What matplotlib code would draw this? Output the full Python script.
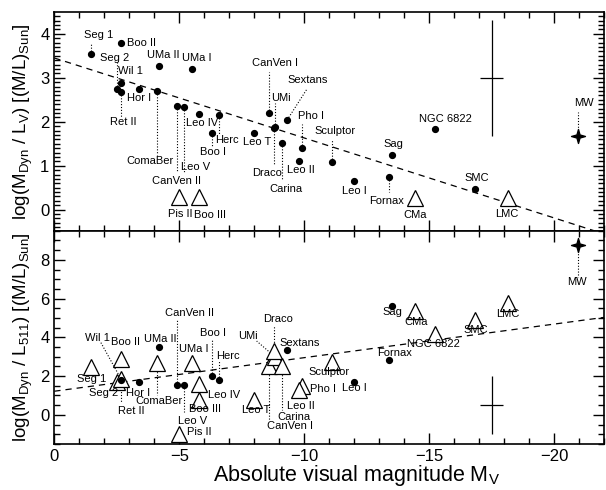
import numpy as np
import matplotlib
matplotlib.use("Agg")
import matplotlib.pyplot as plt
from matplotlib.path import Path
from matplotlib.ticker import MultipleLocator

plt.rcParams['font.family'] = ['Liberation Sans', 'DejaVu Sans']
plt.rcParams['mathtext.fontset'] = 'custom'
plt.rcParams['mathtext.rm'] = 'Liberation Sans'
plt.rcParams['mathtext.it'] = 'Liberation Sans:italic'
plt.rcParams['mathtext.default'] = 'regular'

# --- data -------------------------------------------------------------
names = ["Seg 1", "Boo II", "Seg 2", "Wil 1", "Ret II", "Hor I", "UMa II", "UMa I",
         "ComaBer", "CanVen II", "Leo V", "Leo IV", "Herc", "Boo I", "Pis II", "Boo III",
         "CanVen I", "Sextans", "UMi", "Draco", "Carina", "Leo T", "Pho I", "Leo II",
         "Sculptor", "Leo I", "Sag", "Fornax", "CMa", "NGC 6822", "SMC", "LMC", "MW"]
mv = [-1.47, -2.67, -2.5, -2.67, -2.67, -3.39, -4.19, -5.5,
      -4.1, -4.9, -5.2, -5.8, -6.6, -6.3, -5.0, -5.8,
      -8.6, -9.32, -8.83, -8.79, -9.1, -8.0, -9.9, -9.8,
      -11.1, -12.0, -13.52, -13.4, -14.43, -15.23, -16.83, -18.16, -20.96]
# log(M_dyn / L_V)
ml_v = [3.54, 3.80, 2.74, 2.89, 2.68, 2.74, 3.27, 3.20,
        2.70, 2.36, 2.33, 2.17, 2.15, 1.75, 0.28, 0.28,
        2.20, 2.04, 1.89, 1.85, 1.52, 1.75, 1.40, 1.11,
        1.08, 0.65, 1.24, 0.75, 0.26, 1.83, 0.47, 0.26, 1.68]
kind_v = ["o"] * 14 + ["t", "t"] + ["o"] * 12 + ["t", "o", "o", "t", "s"]

# log(M_dyn / L_511)
ml_511 = [2.45, 2.90, 1.70, 1.85, 1.79, 1.71, 3.52, 2.66,
          2.69, 1.52, 1.52, 1.57, 1.78, 2.00, -0.97, 0.79,
          2.50, 3.35, 3.00, 3.30, 2.50, 0.79, 1.48, 1.30,
          2.75, 1.71, 5.63, 2.83, 5.37, 4.16, 4.89, 5.77, 8.78]
kind_511 = ["t", "t", "t", "t", "o", "o", "o", "t",
            "t", "o", "o", "t", "o", "o", "t", "t",
            "t", "o", "t", "t", "t", "t", "t", "t",
            "t", "o", "o", "o", "t", "t", "t", "t", "s"]

fit_x = [0, -22]
fit_v = [3.45, -0.55]
fit_511 = [1.22, 5.03]

err_x = -17.5
err_v = (3.0, 1.32, 0.45)
err_511 = (0.5, 1.5, 0.45)

# --- label layout (text centre, optional leader end) -------------------
lab_v = {
    "Seg 1": (-1.76, 3.97), "Boo II": (-3.49, 3.80), "Seg 2": (-2.40, 3.46),
    "Wil 1": (-3.05, 3.15), "Hor I": (-3.40, 2.53), "Ret II": (-2.75, 1.99),
    "UMa II": (-4.36, 3.52), "UMa I": (-5.72, 3.46), "ComaBer": (-3.84, 1.11),
    "CanVen II": (-4.91, 0.65), "Leo V": (-5.64, 0.96), "Leo IV": (-5.93, 1.96),
    "Herc": (-6.93, 1.58), "Boo I": (-6.34, 1.32), "CanVen I": (-8.85, 3.34),
    "UMi": (-9.06, 2.55), "Sextans": (-10.13, 2.96), "Pho I": (-10.29, 2.13),
    "Leo T": (-8.10, 1.53), "Draco": (-8.52, 0.84), "Carina": (-9.27, 0.46),
    "Leo II": (-9.88, 0.90), "Sculptor": (-11.24, 1.80), "Leo I": (-12.01, 0.43),
    "Sag": (-13.59, 1.49), "Fornax": (-13.31, 0.20), "NGC 6822": (-15.64, 2.06),
    "SMC": (-16.93, 0.71), "CMa": (-14.43, -0.12), "LMC": (-18.10, -0.10),
    "Pis II": (-5.03, -0.10), "Boo III": (-6.24, -0.12), "MW": (-21.18, 2.42),
}
lead_v = {
    "Seg 1": (-1.47, 3.80), "Seg 2": (-2.5, 3.36), "Ret II": (-2.67, 2.08),
    "ComaBer": (-4.1, 1.24), "CanVen II": (-4.9, 0.86), "Leo V": (-5.2, 0.86),
    "Herc": (-6.6, 1.70), "Boo I": (-6.3, 1.45), "CanVen I": (-8.6, 3.13),
    "UMi": (-8.83, 2.43), "Sextans": (-10.12, 2.75), "Pho I": (-9.9, 1.95),
    "Draco": (-8.79, 1.02), "Carina": (-9.1, 0.68), "Sculptor": (-11.1, 1.58),
    "Fornax": (-13.4, 0.40), "MW": (-20.96, 2.22),
}
lab_511 = {
    "Wil 1": (-1.73, 3.99), "Boo II": (-2.84, 3.76), "Seg 1": (-1.50, 1.87),
    "Seg 2": (-1.98, 1.14), "Hor I": (-3.36, 1.14), "Ret II": (-3.07, 0.22),
    "UMa II": (-4.26, 3.94), "ComaBer": (-4.21, 0.70), "UMa I": (-5.60, 3.42),
    "Leo V": (-5.55, -0.30), "CanVen II": (-5.41, 5.28), "Boo I": (-6.34, 4.25),
    "Herc": (-6.95, 3.04), "Leo IV": (-6.81, 1.02), "Boo III": (-6.05, 0.30),
    "Pis II": (-5.80, -0.88), "UMi": (-7.76, 4.07), "Draco": (-8.96, 4.94),
    "Sextans": (-9.83, 3.73), "Sculptor": (-11.00, 2.23), "Fornax": (-13.63, 3.21),
    "Leo I": (-12.01, 1.40), "Pho I": (-10.76, 1.31), "Leo II": (-9.86, 0.48),
    "Carina": (-9.61, -0.10), "CanVen I": (-9.42, -0.59), "Leo T": (-8.06, 0.27),
    "Sag": (-13.55, 5.32), "CMa": (-14.47, 4.77), "NGC 6822": (-15.19, 3.64),
    "SMC": (-16.87, 4.37), "LMC": (-18.15, 5.20), "MW": (-20.90, 6.84),
}
lead_511 = {
    "Wil 1": (-1.83, 3.81), "Ret II": (-2.67, 0.64), "ComaBer": (-4.1, 1.05),
    "CanVen II": (-4.9, 4.94), "Leo V": (-5.2, 0.15), "Boo I": (-6.3, 3.90),
    "Herc": (-6.6, 2.76), "UMi": (-8.1, 3.81), "Draco": (-8.79, 4.58),
    "Carina": (-9.1, 0.27), "CanVen I": (-8.6, -0.24), "MW": (-20.96, 7.11),
}

star = Path([(0, 1), (0.22, 0.22), (1, 0), (0.22, -0.22), (0, -1),
             (-0.22, -0.22), (-1, 0), (-0.22, 0.22), (0, 1)], closed=True)


def draw_panel(ax, yvals, kinds, labels, leaders, fit_y, err):
    for n, (lx, ly) in leaders.items():
        i = names.index(n)
        ax.plot([mv[i], lx], [yvals[i], ly], color="black", ls=(0, (1, 1.6)),
                lw=0.8, zorder=1)
    ax.plot(fit_x, fit_y, color="black", ls=(0, (5, 4)), lw=0.9, zorder=2)
    for x, y, k in zip(mv, yvals, kinds):
        if k == "o":
            ax.plot(x, y, "o", ms=4.2, color="black", zorder=4)
        elif k == "t":
            ax.plot(x, y, "^", ms=12, mfc="white", mec="black", mew=0.9, zorder=3)
        else:
            ax.plot(x, y, marker=star, ms=10, color="black", ls="none", zorder=4)
    for n, (lx, ly) in labels.items():
        ax.text(lx, ly, n, fontsize=8, ha="center", va="center", zorder=5)
    yc, ye, xe = err
    ax.errorbar([err_x], [yc], yerr=[ye], xerr=[xe], fmt="none", ecolor="black",
                elinewidth=0.9, capsize=0)
    ax.set_xlim(0, -22)
    ax.xaxis.set_major_locator(MultipleLocator(5))
    ax.xaxis.set_minor_locator(MultipleLocator(1))
    ax.tick_params(which="both", direction="in", top=True, right=True,
                   labelsize=12, width=1.0)
    ax.tick_params(which="major", length=8)
    ax.tick_params(which="minor", length=4)
    for s in ax.spines.values():
        s.set_linewidth(1.2)


fig = plt.figure(figsize=(6.06, 4.9), dpi=100)
left, width = 0.0896, 0.907
ax1 = fig.add_axes([left, 0.529, width, 0.446])
ax2 = fig.add_axes([left, 0.094, width, 0.435])

draw_panel(ax1, ml_v, kind_v, lab_v, lead_v, fit_v, err_v)
ax1.set_ylim(-0.48, 4.49)
ax1.yaxis.set_major_locator(MultipleLocator(1))
ax1.yaxis.set_minor_locator(MultipleLocator(0.1))
ax1.tick_params(labelbottom=False)
ax1.set_ylabel(r"log(M$_{\rm Dyn}$ / L$_{\rm V}$) [(M/L)$_{\rm Sun}$]", fontsize=13.5,
               labelpad=4)

draw_panel(ax2, ml_511, kind_511, lab_511, lead_511, fit_511, err_511)
ax2.set_ylim(-1.5, 9.5)
ax2.yaxis.set_major_locator(MultipleLocator(2))
ax2.yaxis.set_minor_locator(MultipleLocator(0.5))
ax2.set_ylabel(r"log(M$_{\rm Dyn}$ / L$_{\rm 511}$) [(M/L)$_{\rm Sun}$]", fontsize=13.5,
               labelpad=4)
ax2.set_xlabel(r"Absolute visual magnitude M$_{\rm V}$", fontsize=15.5, labelpad=1)

fig.align_ylabels([ax1, ax2])
ax2.xaxis.set_label_coords(0.55, -0.09)
fig.savefig("out.png", dpi=100)
